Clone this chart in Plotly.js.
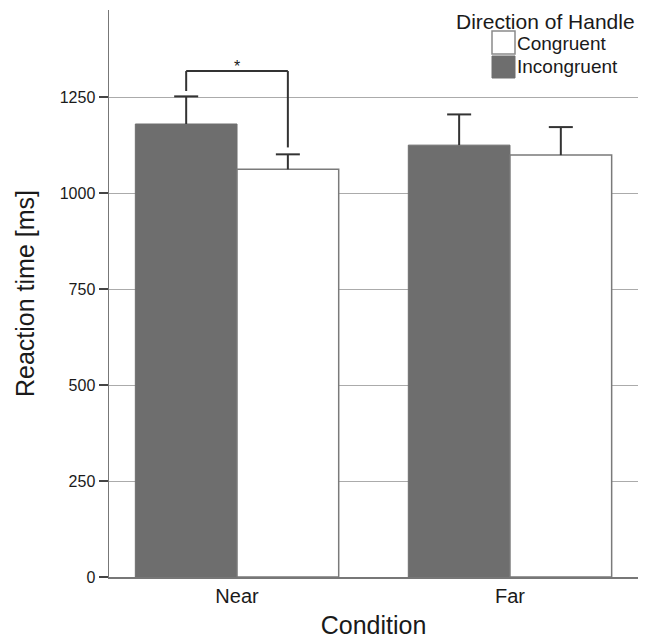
<!DOCTYPE html>
<html>
<head>
<meta charset="utf-8">
<script src="https://cdn.plot.ly/plotly-3.0.1.min.js"></script>
<style>
  html, body { margin: 0; padding: 0; background: #fff; }
  #chart { width: 647px; height: 640px; }
</style>
</head>
<body>
<div id="chart"></div>
<script>
// ---- data ----
const conditions = ["Near", "Far"];
const seriesNames = ["Incongruent", "Congruent"];
const incongruentRT = [1180, 1125];
const congruentRT = [1062, 1099];
const incongruentErr = [72, 80];
const congruentErr = [39, 73];
const yTickVals = [0, 250, 500, 750, 1000, 1250];
const yTickText = ["0", "250", "500", "750", "1000", "1250"];
// significance bracket (Near: Incongruent vs Congruent)
const sigCategoryIndex = 0;
const sigBracketTop = 1318;
const sigLegBottoms = [1266, 1119];
const sigStarY = 1346;
const sigLabel = "*";
const legendTitle = "Direction of Handle";
const xTitle = "Condition";
const yTitle = "Reaction time [ms]";

// ---- styles / geometry ----
const FONT = "Liberation Sans, Arial, Helvetica, sans-serif";
const DARK = "#6e6e6e";
const TEXT = "#1a1a1a";
const bargap = 0.255;
const barHalf = (1 - bargap) / 4; // offset of each bar centre in a 2-bar group
const xRange = [-0.469, 1.469];
const M = { l: 109, r: 9, t: 10, b: 63 };
const W = 647, H = 640;
const pw = W - M.l - M.r, ph = H - M.t - M.b;
const px = v => (v - M.l) / pw;
const py = v => (H - M.b - v) / ph;
const capHalf = 12 * (xRange[1] - xRange[0]) / pw; // 12 px in x units

// upper-only error bars (stem + top cap), built from the data arrays
const ebX = [], ebY = [];
function addErr(values, errs, side) {
  values.forEach((v, i) => {
    const xc = i + side * barHalf, top = v + errs[i];
    ebX.push(xc, xc, null, xc - capHalf, xc + capHalf, null);
    ebY.push(v, top, null, top, top, null);
  });
}
addErr(incongruentRT, incongruentErr, -1);
addErr(congruentRT, congruentErr, +1);

const traces = [
  {
    type: "bar", name: seriesNames[0], x: conditions, y: incongruentRT,
    marker: { color: DARK, line: { color: DARK, width: 1 } },
    showlegend: false, hoverinfo: "skip"
  },
  {
    type: "bar", name: seriesNames[1], x: conditions, y: congruentRT,
    marker: { color: "#ffffff", line: { color: "#7a7a7a", width: 1.5 } },
    showlegend: false, hoverinfo: "skip"
  },
  {
    type: "scatter", mode: "lines", x: ebX, y: ebY, xaxis: "x2", yaxis: "y",
    line: { color: "#333", width: 2 }, connectgaps: false,
    showlegend: false, hoverinfo: "skip", cliponaxis: false
  }
];

const lineStyle = { color: "#333", width: 2 };
const xL = sigCategoryIndex - barHalf, xR = sigCategoryIndex + barHalf;
const shapes = [
  { type: "line", xref: "x2", yref: "y", x0: xL, x1: xL, y0: sigLegBottoms[0], y1: sigBracketTop, line: lineStyle },
  { type: "line", xref: "x2", yref: "y", x0: xL, x1: xR, y0: sigBracketTop, y1: sigBracketTop, line: lineStyle },
  { type: "line", xref: "x2", yref: "y", x0: xR, x1: xR, y0: sigBracketTop, y1: sigLegBottoms[1], line: lineStyle },
  // legend swatches
  { type: "rect", xref: "paper", yref: "paper", x0: px(492), x1: px(515), y0: py(54), y1: py(31),
    fillcolor: "#ffffff", line: { color: "#8a8a8a", width: 1.5 } },
  { type: "rect", xref: "paper", yref: "paper", x0: px(492), x1: px(515), y0: py(78), y1: py(56),
    fillcolor: DARK, line: { color: DARK, width: 1 } }
];

const annotations = [
  { xref: "x2", yref: "y", x: sigCategoryIndex, y: sigStarY, text: sigLabel, showarrow: false,
    yshift: -6, font: { family: FONT, size: 16, color: TEXT } },
  { xref: "paper", yref: "paper", x: px(637), y: py(21), xanchor: "right", yanchor: "middle",
    text: legendTitle, showarrow: false, font: { family: FONT, size: 21, color: TEXT } },
  { xref: "paper", yref: "paper", x: px(515), y: py(43.5), xanchor: "left", yanchor: "middle",
    text: seriesNames[1], showarrow: false, font: { family: FONT, size: 19, color: TEXT } },
  { xref: "paper", yref: "paper", x: px(515), y: py(66.5), xanchor: "left", yanchor: "middle",
    text: seriesNames[0], showarrow: false, font: { family: FONT, size: 19, color: TEXT } }
];

const layout = {
  width: W, height: H,
  margin: M,
  paper_bgcolor: "#ffffff", plot_bgcolor: "#ffffff",
  barmode: "group", bargap: bargap, bargroupgap: 0,
  showlegend: false,
  font: { family: FONT, color: TEXT },
  xaxis: {
    type: "category", range: xRange,
    showgrid: false, zeroline: false,
    showline: true, linecolor: "#777", linewidth: 2,
    ticks: "", tickfont: { family: FONT, size: 20, color: TEXT },
    title: { text: xTitle, font: { family: FONT, size: 25, color: TEXT }, standoff: 10 },
    fixedrange: true
  },
  xaxis2: {
    type: "linear", range: xRange, overlaying: "x", visible: false, fixedrange: true
  },
  yaxis: {
    range: [0, 1477],
    tickvals: yTickVals, ticktext: yTickText,
    showgrid: true, gridcolor: "#ababab", gridwidth: 1,
    zeroline: false,
    showline: true, linecolor: "#777", linewidth: 1.5,
    ticks: "outside", ticklen: 9, tickwidth: 1.5, tickcolor: "#444",
    tickfont: { family: FONT, size: 16, color: TEXT },
    title: { text: yTitle, font: { family: FONT, size: 25, color: TEXT }, standoff: 18 },
    fixedrange: true
  },
  shapes: shapes,
  annotations: annotations
};

Plotly.newPlot("chart", traces, layout, { displayModeBar: false, staticPlot: true });
</script>
</body>
</html>
